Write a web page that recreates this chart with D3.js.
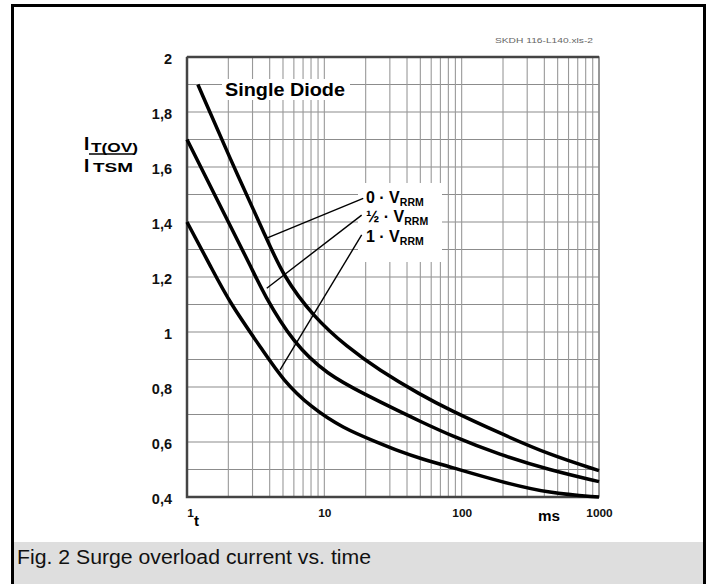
<!DOCTYPE html>
<html>
<head>
<meta charset="utf-8">
<script src="https://cdn.jsdelivr.net/npm/d3@7"></script>
<style>
  body { margin: 0; background: #fff; }
  svg { display: block; font-family: "Liberation Sans", Arial, sans-serif; }
</style>
</head>
<body>
<div id="chart"></div>
<script>
// values (t in ms, I/ITSM)
let curve0T = [1.2, 2, 3.8, 5, 8.3, 14.6, 25, 50, 82, 190, 440, 1000];
let curve0V = [1.9, 1.644, 1.34, 1.205, 1.056, 0.946, 0.862, 0.772, 0.716, 0.632, 0.553, 0.496];

let curveHalfT = [1, 2, 2.96, 3.6, 5.95, 10.5, 20, 35, 50, 82, 190, 440, 1000];
let curveHalfV = [1.7, 1.4, 1.232, 1.14, 0.959, 0.845, 0.772, 0.712, 0.675, 0.625, 0.553, 0.498, 0.456];

let curve1T = [1, 1.51, 2.06, 3.6, 5, 7.9, 13.7, 24, 35.6, 50, 82, 190, 440, 1000];
let curve1V = [1.4, 1.232, 1.104, 0.93, 0.825, 0.728, 0.65, 0.6, 0.565, 0.54, 0.51, 0.456, 0.413, 0.4];

let yTicks = [0.4, 0.6, 0.8, 1, 1.2, 1.4, 1.6, 1.8, 2];
let xTicks = [1, 10, 100, 1000];

let legendLabels = ["0 \u00b7 V", "\u00bd \u00b7 V", "1 \u00b7 V"];
// leader lines: [t1, v1, t2, v2]
let leaders = [
  [3.81, 1.341, 19.2, 1.486],
  [3.81, 1.159, 18.7, 1.425],
  [4.76, 0.862, 18.7, 1.353]
];

var W = 716, H = 584;
var margin = {top: 57, left: 187},
  width = 412,
  height = 440;

var svg = d3.select("#chart").append("svg")
  .attr("width", W).attr("height", H);

// caption band + outer frame
svg.append("rect").attr("x", 12).attr("y", 542).attr("width", 692).attr("height", 42)
  .attr("fill", "#dedede");
svg.append("text").attr("x", 17).attr("y", 564)
  .style("font-size", "19.5px").attr("fill", "#111")
  .attr("textLength", 354).attr("lengthAdjust", "spacingAndGlyphs")
  .text("Fig. 2 Surge overload current vs. time");
svg.append("path")
  .attr("d", "M12.5,584 V5.5 H704.5 V584")
  .attr("fill", "none").attr("stroke", "#000").attr("stroke-width", 3);

svg.append("text").attr("x", 495).attr("y", 42.5)
  .style("font-size", "8px").attr("fill", "#666")
  .attr("textLength", 98).attr("lengthAdjust", "spacingAndGlyphs")
  .text("SKDH 116-L140.xls-2");

var g = svg.append("g")
  .attr("transform", "translate(" + margin.left + "," + margin.top + ")");

var x = d3.scaleLog().domain([1, 1000]).range([0, width]);
var y = d3.scaleLinear().domain([0.4, 2]).range([height, 0]);

// grid
var hLines = d3.range(4, 21).map(d => d / 10);
g.selectAll(".hgrid").data(hLines).enter().append("line")
  .attr("x1", 0).attr("x2", width)
  .attr("y1", d => y(d)).attr("y2", d => y(d))
  .attr("stroke", "#8c8c8c").attr("stroke-width", 1.2);

g.selectAll(".vgrid").data(x.ticks()).enter().append("line")
  .attr("x1", d => x(d)).attr("x2", d => x(d))
  .attr("y1", 0).attr("y2", height)
  .attr("stroke", "#999").attr("stroke-width", 1.1);

// frame
g.append("rect").attr("width", width).attr("height", height)
  .attr("fill", "none").attr("stroke", "#888").attr("stroke-width", 1.5);
g.append("path")
  .attr("d", "M0,0 H" + width + " M0,0 V" + height + " H" + width)
  .attr("fill", "none").attr("stroke", "#444").attr("stroke-width", 2.5);

// white boxes behind labels
g.append("rect").attr("x", 222 - margin.left).attr("y", 79 - margin.top)
  .attr("width", 128).attr("height", 21).attr("fill", "#fff");
g.append("rect").attr("x", 358 - margin.left).attr("y", 183 - margin.top)
  .attr("width", 84).attr("height", 79).attr("fill", "#fff");

// curves
var line = d3.line()
  .x(d => x(d[0])).y(d => y(d[1]))
  .curve(d3.curveBasis);

[[curve0T, curve0V], [curveHalfT, curveHalfV], [curve1T, curve1V]].forEach(function(c) {
  g.append("path")
    .datum(c[0].map((t, i) => [t, c[1][i]]))
    .attr("d", line)
    .attr("fill", "none").attr("stroke", "#000").attr("stroke-width", 3.5);
});

// leaders
g.selectAll(".leader").data(leaders).enter().append("line")
  .attr("x1", d => x(d[0])).attr("y1", d => y(d[1]))
  .attr("x2", d => x(d[2])).attr("y2", d => y(d[3]))
  .attr("stroke", "#000").attr("stroke-width", 1.4);

var lg = g.selectAll(".lab").data(legendLabels).enter().append("text")
  .attr("x", 366 - margin.left)
  .attr("y", (d, i) => 203 - margin.top + i * 19.3)
  .style("font-size", "16px").style("font-weight", "bold");
lg.append("tspan").text(d => d);
lg.append("tspan").attr("dy", 3).style("font-size", "10.5px").text("RRM");

g.append("text").attr("x", 225 - margin.left).attr("y", 96 - margin.top)
  .style("font-size", "18.5px").style("font-weight", "bold")
  .attr("textLength", 120).attr("lengthAdjust", "spacingAndGlyphs")
  .text("Single Diode");

// axes
var yAxis = d3.axisLeft(y).tickValues(yTicks).tickSize(0).tickPadding(15)
  .tickFormat(d => String(d).replace(".", ","));
var ya = g.append("g").call(yAxis);
ya.select(".domain").remove();
ya.selectAll("text").style("font-size", "14.5px").style("font-weight", "bold")
  .attr("font-family", null).attr("fill", "#111").attr("dy", "0.42em");

var xAxis = d3.axisBottom(x).tickValues(xTicks).tickSize(0).tickPadding(13)
  .tickFormat(d3.format("d"));
var xa = g.append("g").attr("transform", "translate(0," + height + ")").call(xAxis);
xa.select(".domain").remove();
xa.selectAll("text").style("font-size", "10px").style("font-weight", "bold")
  .attr("font-family", null).attr("fill", "#111")
  .attr("textLength", d => String(d).length * 6.6)
  .attr("lengthAdjust", "spacingAndGlyphs")
  .attr("dx", d => d === 1 ? 3 : 0);

svg.append("text").attr("x", 194).attr("y", 526)
  .style("font-size", "15px").style("font-weight", "bold").text("t");
svg.append("text").attr("x", 538).attr("y", 521)
  .style("font-size", "14px").style("font-weight", "bold")
  .attr("textLength", 22).attr("lengthAdjust", "spacingAndGlyphs").text("ms");

// y label  I_T(OV) / I_TSM
svg.append("text").attr("x", 84).attr("y", 150)
  .style("font-size", "19px").style("font-weight", "bold").text("I");
svg.append("text").attr("x", 91).attr("y", 151.5)
  .style("font-size", "13.5px").style("font-weight", "bold")
  .attr("textLength", 47).attr("lengthAdjust", "spacingAndGlyphs").text("T(OV)");
svg.append("line").attr("x1", 89).attr("x2", 134).attr("y1", 154).attr("y2", 154)
  .attr("stroke", "#000").attr("stroke-width", 1.5);
svg.append("text").attr("x", 84).attr("y", 172)
  .style("font-size", "19px").style("font-weight", "bold").text("I");
svg.append("text").attr("x", 93).attr("y", 172)
  .style("font-size", "12.5px").style("font-weight", "bold")
  .attr("textLength", 40).attr("lengthAdjust", "spacingAndGlyphs").text("TSM");
</script>
</body>
</html>
